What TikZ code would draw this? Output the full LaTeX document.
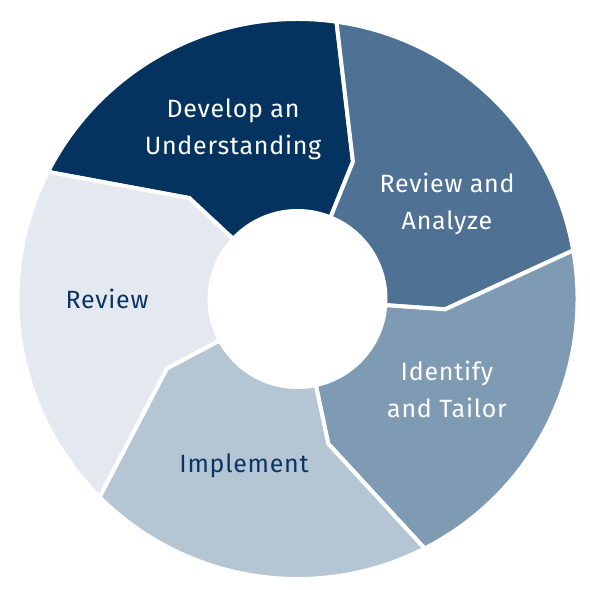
\documentclass[tikz,border=0pt]{standalone}
\usepackage{fontspec}
\setmainfont{Fira Sans}[LetterSpace=3]
\definecolor{cDev}{HTML}{04335F}
\definecolor{cRA}{HTML}{4E7194}
\definecolor{cIT}{HTML}{7F9BB3}
\definecolor{cImp}{HTML}{B4C5D3}
\definecolor{cRev}{HTML}{E4E9EF}
\definecolor{cTxt}{HTML}{0B3464}
\newcommand\Ri{88}
\newcommand\Rk{148}
\newcommand\Ro{280}
\newcommand\ringseg[5]{\fill[#5,draw=white,line width=4pt,line join=miter] (#1:\Ri) -- (#1:\Rk) -- (#2:\Ro) arc[start angle=#2,end angle=#4,radius=\Ro] -- (#3:\Rk) -- (#3:\Ri) arc[start angle=#3,end angle=#1,radius=\Ri] -- cycle;}
\begin{document}
\begin{tikzpicture}[x=1pt,y=1pt,
  lbl/.style={font=\fontsize{25}{37}\selectfont,align=center,inner sep=0pt}]
\fill[white] (0,0) rectangle (590,590);
\useasboundingbox (0,0) rectangle (590,590);
\begin{scope}[shift={(297.5,291)}]
\ringseg{68}{82}{137}{153}{cDev}
\ringseg{-4}{10}{68}{82}{cRA}
\ringseg{-78}{-63}{-4}{10}{cIT}
\ringseg{-152}{-135}{-78}{-63}{cImp}
\ringseg{-223}{-207}{-152}{-135}{cRev}
\end{scope}
\node[lbl,white] (dev) at (233,461) {Develop an\\Understanding};
\node[lbl,white] (ra) at (447,386) {Review and\\Analyze};
\node[lbl,white] (it) at (447,201) {Identify\\and Tailor};
\node[lbl,text=cTxt] (imp) at (244,124) {Implement};
\node[lbl,text=cTxt] (rev) at (107,291) {Review};
\end{tikzpicture}
\end{document}
